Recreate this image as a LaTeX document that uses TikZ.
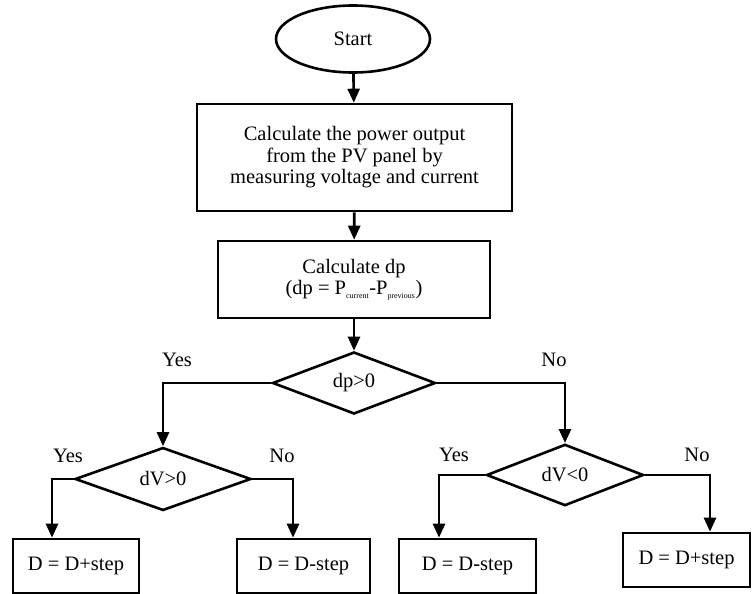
\documentclass[tikz,border=0pt]{standalone}
\usepackage{fontspec}
\setmainfont{Liberation Serif}
\usetikzlibrary{shapes.geometric,arrows.meta}
\begin{document}
\begin{tikzpicture}[x=1pt,y=-1pt,
  font=\fontsize{20.5}{21.5}\selectfont,
  every node/.style={inner sep=0pt},
  arr/.style={line width=2.6pt,-{Triangle[length=14pt,width=12pt]}},
  boxnode/.style={draw,line width=2.6pt,rectangle,align=center},
  decision/.style={draw,line width=2.6pt,diamond,inner sep=0pt},
  lbl/.style={font=\fontsize{20.5}{21}\selectfont}]
\useasboundingbox (0,0) rectangle (752,594);
\node[draw,line width=2.6pt,ellipse,minimum width=154pt,minimum height=67pt] (start) at (353,39) {Start};
\node[boxnode,minimum width=315pt,minimum height=107pt] (calc) at (354.5,157.5)
  {Calculate the power output\\from the PV panel by\\measuring voltage and current};
\node[boxnode,minimum width=272pt,minimum height=77pt] (dp) at (354,279.5)
  {Calculate dp\\(dp = P\textsubscript{\fontsize{8}{8}\selectfont current}-P\textsubscript{\fontsize{8}{8}\selectfont previous})};
\node[decision,minimum width=163pt,minimum height=62pt] (d1) at (354,383) {dp{\textgreater}0};
\node[decision,minimum width=176pt,minimum height=63pt] (d2) at (163,479) {dV{\textgreater}0};
\node[decision,minimum width=157pt,minimum height=54pt] (d3) at (565,475) {dV{\textless}0};
\node[boxnode,minimum width=126pt,minimum height=54pt] (b1) at (76,566) {D = D+step};
\node[boxnode,minimum width=133pt,minimum height=54pt] (b2) at (303.5,566) {D = D-step};
\node[boxnode,minimum width=137pt,minimum height=54pt] (b3) at (467.5,566) {D = D-step};
\node[boxnode,minimum width=127pt,minimum height=54pt] (b4) at (686.5,560) {D = D+step};
\node[lbl] (y1) at (177,360) {Yes};
\node[lbl] (n1) at (554,360) {No};
\node[lbl] (y2) at (68,456) {Yes};
\node[lbl] (n2) at (282,456) {No};
\node[lbl] (y3) at (454,455) {Yes};
\node[lbl] (n3) at (697,455) {No};
\draw[arr] (start) -- (calc);
\draw[arr] (calc) -- (dp);
\draw[arr] (dp) -- (d1);
\draw[arr] (d1.west) -| (d2.north);
\draw[arr] (d1.east) -| (d3.north);
\draw[arr] (d2.west) -| ([xshift=-24pt]b1.north);
\draw[arr] (d2.east) -| ([xshift=-10.5pt]b2.north);
\draw[arr] (d3.west) -| ([xshift=-28.5pt]b3.north);
\draw[arr] (d3.east) -| ([xshift=23.5pt]b4.north);
\end{tikzpicture}
\end{document}
